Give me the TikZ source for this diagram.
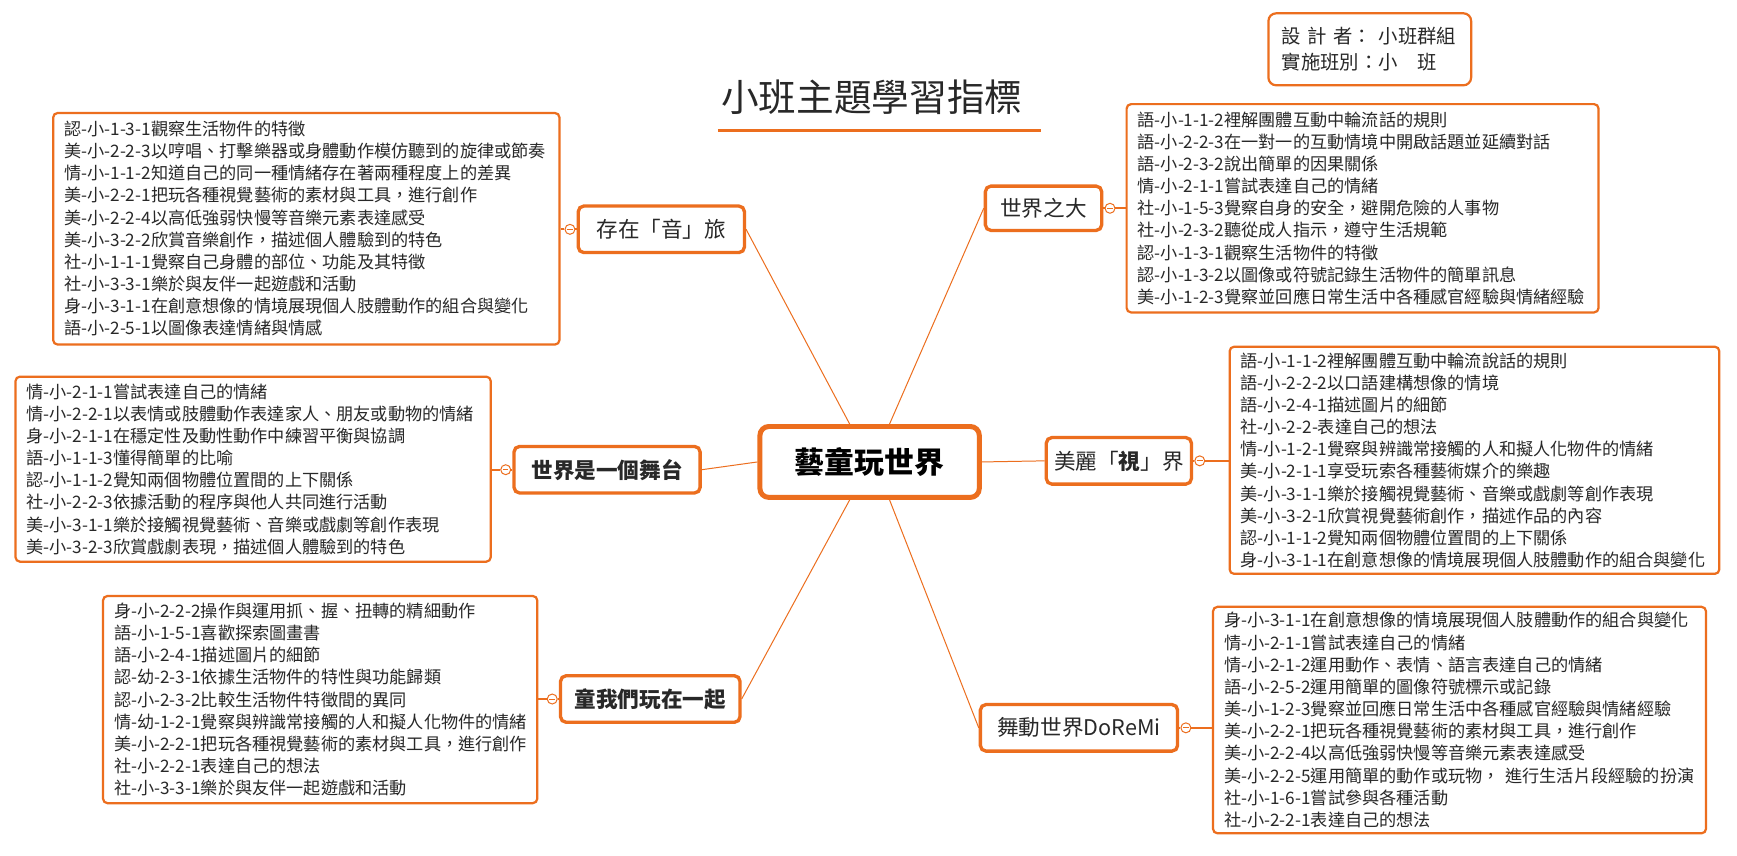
\documentclass[tikz,border=0pt]{standalone}
\usepackage{fontspec}
\setmainfont{Noto Sans CJK TC}
\definecolor{mmorange}{RGB}{236,110,30}
\definecolor{mmtext}{RGB}{40,40,40}
\newcommand\mmlistfont{\fontsize{15.5}{20}\selectfont\exhyphenpenalty=10000\hyphenpenalty=10000\relax}
\newcommand\mmbranchfont{\fontsize{19.5}{24}\selectfont}
\begin{document}
\begin{tikzpicture}[x=1pt,y=-1pt,
  listbox/.style={draw=mmorange, line width=2pt, rounded corners=4pt, fill=white, align=left,
    inner xsep=10pt, inner ysep=5pt, font=\mmlistfont, text=mmtext},
  branch/.style={draw=mmorange, line width=3pt, rounded corners=5pt, fill=white,
    minimum height=42pt, font=\mmbranchfont, text=mmtext, inner sep=0pt},
  boldbranch/.style={branch, font=\mmbranchfont\bfseries},
  hub/.style={draw=mmorange, line width=4.5pt, rounded corners=8pt, fill=white,
    minimum width=198pt, minimum height=64pt, font=\fontsize{27}{32}\selectfont\bfseries, text=black},
  spoke/.style={draw=mmorange, line width=0.9pt},
  link/.style={draw=mmorange, line width=2pt},
  collapse/.style={circle, draw=mmorange, line width=0.9pt, fill=white, minimum size=9pt, inner sep=0pt,
    path picture={\draw[mmorange, line width=0.8pt] ([xshift=-2.5pt]path picture bounding box.center) -- ([xshift=2.5pt]path picture bounding box.center);}},
]
\useasboundingbox[fill=white] (0,0) rectangle (1568,772);

% title
\node[font=\fontsize{34}{40}\selectfont, text=mmtext] (title) at (787,88) {小班主題學習指標};
\coordinate (ulA) at (648,118);
\coordinate (ulB) at (940,118);
\draw[mmorange, line width=3pt] (ulA) -- (ulB);

% info box
\node[listbox, font=\fontsize{17.5}{24}\selectfont, rounded corners=7pt, inner xsep=12pt,
  text width=159pt, minimum height=65pt] (info) at (1236.5,44.5) {設 計 者：~小班群組\\實施班別：小　班};

% hub and branches
\node[hub] (hub) at (785,417) {藝童玩世界};
\node[branch, minimum width=150pt] (b1) at (597,207) {存在「音」旅};
\node[branch, minimum width=105pt, minimum height=40pt] (b2) at (942,188) {世界之大};
\node[boldbranch, minimum width=168pt] (b3) at (548,424) {世界是一個舞台};
\node[branch, minimum width=131pt] (b4) at (1010,416) {美麗「\textbf{視}」界};
\node[boldbranch, minimum width=162pt] (b5) at (587,631) {童我們玩在一起};
\node[branch, minimum width=178pt] (b6) at (974,657) {舞動世界DoReMi};

\draw[spoke] (b1.east) -- ([xshift=-18pt]hub.north);
\draw[spoke] (b2.west) -- ([xshift=18pt]hub.north);
\draw[spoke] (b3.east) -- (hub.west);
\draw[spoke] (b4.west) -- (hub.east);
\draw[spoke] (b5.east) -- ([xshift=-18pt]hub.south);
\draw[spoke] (b6.west) -- ([xshift=18pt]hub.south);

% lists
\node[listbox, text width=437pt, minimum height=209pt] (l1) at (276.5,206.5) {%
認-小-1-3-1觀察生活物件的特徵\\
美-小-2-2-3以哼唱、打擊樂器或身體動作模仿聽到的旋律或節奏\\
情-小-1-1-2知道自己的同一種情緒存在著兩種程度上的差異\\
美-小-2-2-1把玩各種視覺藝術的素材與工具，進行創作\\
美-小-2-2-4以高低強弱快慢等音樂元素表達感受\\
美-小-3-2-2欣賞音樂創作，描述個人體驗到的特色\\
社-小-1-1-1覺察自己身體的部位、功能及其特徵\\
社-小-3-3-1樂於與友伴一起遊戲和活動\\
身-小-3-1-1在創意想像的情境展現個人肢體動作的組合與變化\\
語-小-2-5-1以圖像表達情緒與情感};

\node[listbox, text width=406pt, minimum height=188pt] (l2) at (1230,188) {%
語-小-1-1-2裡解團體互動中輪流話的規則\\
語-小-2-2-3在一對一的互動情境中開啟話題並延續對話\\
語-小-2-3-2說出簡單的因果關係\\
情-小-2-1-1嘗試表達自己的情緒\\
社-小-1-5-3覺察自身的安全，避開危險的人事物\\
社-小-2-3-2聽從成人指示，遵守生活規範\\
認-小-1-3-1觀察生活物件的特徵\\
認-小-1-3-2以圖像或符號記錄生活物件的簡單訊息\\
美-小-1-2-3覺察並回應日常生活中各種感官經驗與情緒經驗};

\node[listbox, text width=409pt, minimum height=167pt] (l3) at (228.5,423.5) {%
情-小-2-1-1嘗試表達自己的情緒\\
情-小-2-2-1以表情或肢體動作表達家人、朋友或動物的情緒\\
身-小-2-1-1在穩定性及動性動作中練習平衡與協調\\
語-小-1-1-3懂得簡單的比喻\\
認-小-1-1-2覺知兩個物體位置間的上下關係\\
社-小-2-2-3依據活動的程序與他人共同進行活動\\
美-小-3-1-1樂於接觸視覺藝術、音樂或戲劇等創作表現\\
美-小-3-2-3欣賞戲劇表現，描述個人體驗到的特色};

\node[listbox, text width=422pt, minimum height=205pt] (l4) at (1331,415.5) {%
語-小-1-1-2裡解團體互動中輪流說話的規則\\
語-小-2-2-2以口語建構想像的情境\\
語-小-2-4-1描述圖片的細節\\
社-小-2-2-表達自己的想法\\
情-小-1-2-1覺察與辨識常接觸的人和擬人化物件的情緒\\
美-小-2-1-1享受玩索各種藝術媒介的樂趣\\
美-小-3-1-1樂於接觸視覺藝術、音樂或戲劇等創作表現\\
美-小-3-2-1欣賞視覺藝術創作，描述作品的內容\\
認-小-1-1-2覺知兩個物體位置間的上下關係\\
身-小-3-1-1在創意想像的情境展現個人肢體動作的組合與變化};

\node[listbox, text width=372pt, minimum height=187pt] (l5) at (289,631.5) {%
身-小-2-2-2操作與運用抓、握、扭轉的精細動作\\
語-小-1-5-1喜歡探索圖畫書\\
語-小-2-4-1描述圖片的細節\\
認-幼-2-3-1依據生活物件的特性與功能歸類\\
認-小-2-3-2比較生活物件特徵間的異同\\
情-幼-1-2-1覺察與辨識常接觸的人和擬人化物件的情緒\\
美-小-2-2-1把玩各種視覺藝術的素材與工具，進行創作\\
社-小-2-2-1表達自己的想法\\
社-小-3-3-1樂於與友伴一起遊戲和活動};

\node[listbox, text width=425pt, minimum height=204pt] (l6) at (1317.5,650) {%
身-小-3-1-1在創意想像的情境展現個人肢體動作的組合與變化\\
情-小-2-1-1嘗試表達自己的情緒\\
情-小-2-1-2運用動作、表情、語言表達自己的情緒\\
語-小-2-5-2運用簡單的圖像符號標示或記錄\\
美-小-1-2-3覺察並回應日常生活中各種感官經驗與情緒經驗\\
美-小-2-2-1把玩各種視覺藝術的素材與工具，進行創作\\
美-小-2-2-4以高低強弱快慢等音樂元素表達感受\\
美-小-2-2-5運用簡單的動作或玩物，~進行生活片段經驗的扮演\\
社-小-1-6-1嘗試參與各種活動\\
社-小-2-2-1表達自己的想法};

% collapse markers and links
\node[collapse] (k1) at ([xshift=-6pt]b1.west) {};
\draw[link] (l1.east |- k1) -- (k1.west);
\draw[link] (k1.east) -- (b1.west);
\node[collapse] (k2) at ([xshift=6pt]b2.east) {};
\draw[link] (k2.east) -- (l2.west |- k2);
\draw[link] (b2.east) -- (k2.west);
\node[collapse] (k3) at ([xshift=-6pt]b3.west) {};
\draw[link] (l3.east |- k3) -- (k3.west);
\draw[link] (k3.east) -- (b3.west);
\node[collapse] (k4) at ([xshift=6pt]b4.east) {};
\draw[link] (k4.east) -- (l4.west |- k4);
\draw[link] (b4.east) -- (k4.west);
\node[collapse] (k5) at ([xshift=-6pt]b5.west) {};
\draw[link] (l5.east |- k5) -- (k5.west);
\draw[link] (k5.east) -- (b5.west);
\node[collapse] (k6) at ([xshift=6pt]b6.east) {};
\draw[link] (k6.east) -- (l6.west |- k6);
\draw[link] (b6.east) -- (k6.west);
\end{tikzpicture}
\end{document}
